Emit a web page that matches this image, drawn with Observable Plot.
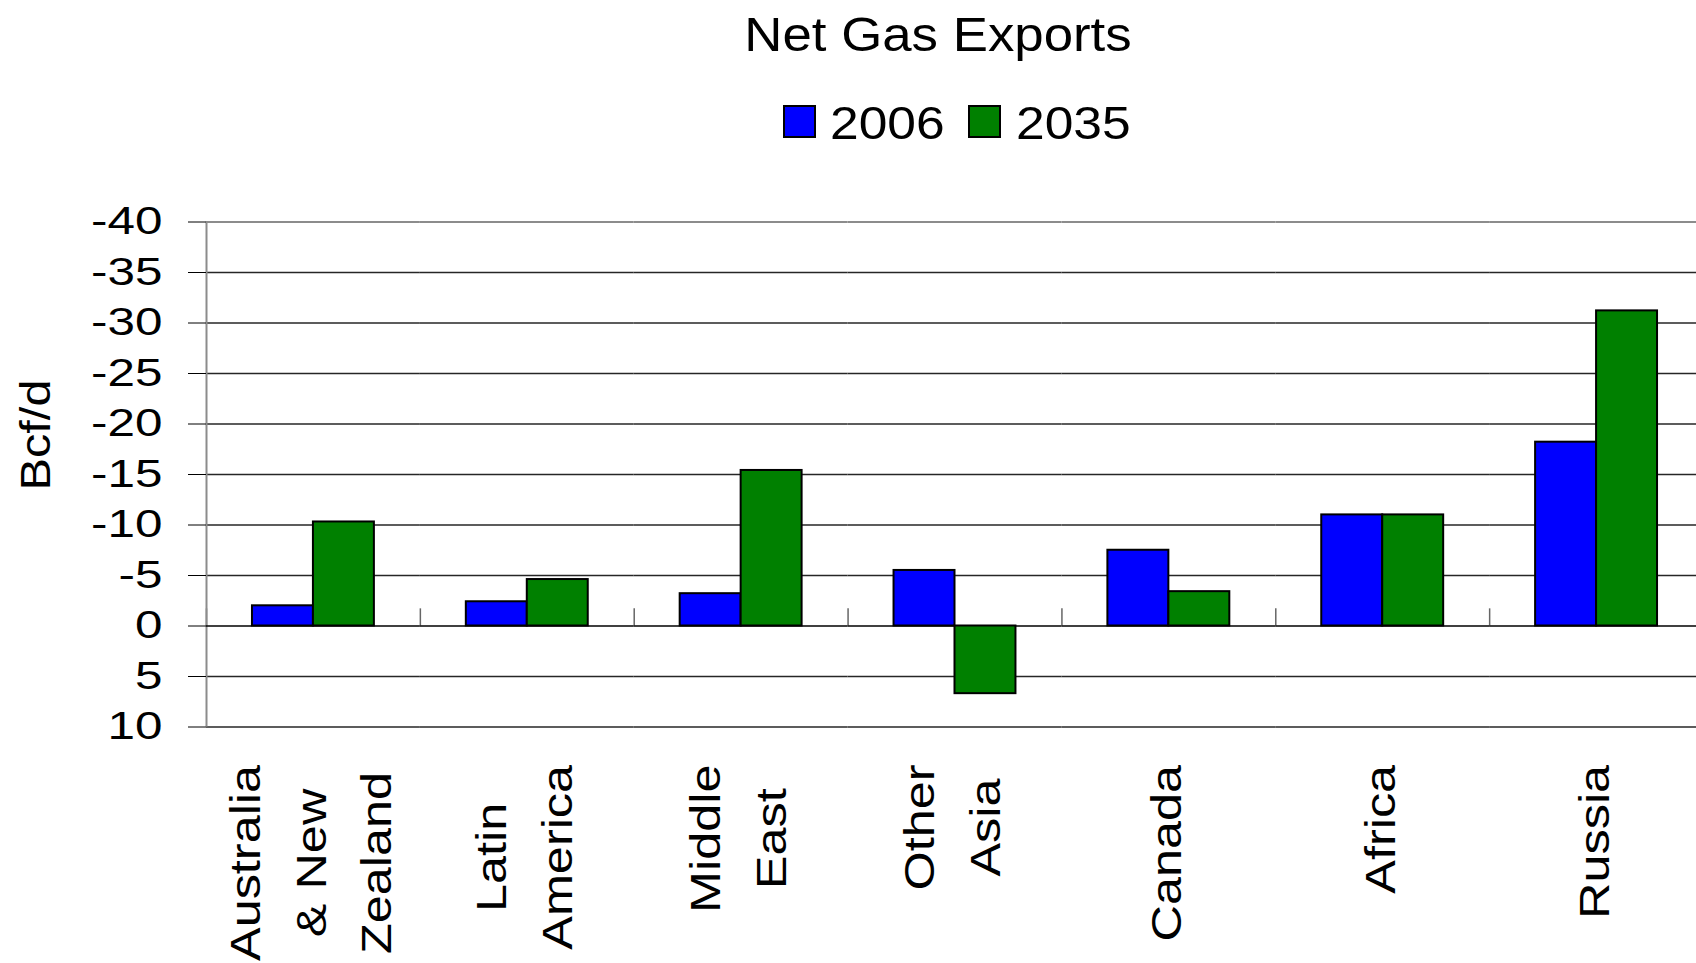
<!DOCTYPE html>
<html>
<head>
<meta charset="utf-8">
<script src="https://cdn.jsdelivr.net/npm/d3@7"></script>
<script src="https://cdn.jsdelivr.net/npm/@observablehq/plot@0.6"></script>
<style>
  html, body { margin: 0; padding: 0; background: #fff; overflow: hidden; }
  #chart { position: relative; width: 1696px; height: 963px; font-family: "Liberation Sans", Arial, sans-serif; color: #000; }
  #header { position: relative; width: 1696px; height: 160px; }
  #title { position: absolute; left: 937.5px; top: 11px; font-size: 48px; line-height: 48px; white-space: nowrap; transform: translateX(-50%) scaleX(1.1); }
  .swatch { position: absolute; top: 105px; width: 33px; height: 33px; box-sizing: border-box; border: 2px solid #000; }
  .ltext { position: absolute; top: 100.4px; font-size: 46px; line-height: 46px; white-space: nowrap; transform: scaleX(1.12); transform-origin: left center; }
  #plot svg { display: block; }
</style>
</head>
<body>
<div id="chart">
  <div id="header"><div id="title"></div></div>
  <div id="plot"></div>
</div>
<script>
// ---- data ----
const titleText = "Net Gas Exports";
const yLabel = "Bcf/d";
const categories = ["Australia & New Zealand", "Latin America", "Middle East", "Other Asia", "Canada", "Africa", "Russia"];
const categoryLines = ["Australia\n& New\nZealand", "Latin\nAmerica", "Middle\nEast", "Other\nAsia", "Canada", "Africa", "Russia"];
const years = ["2006", "2035"];
const values2006 = [-2.0, -2.4, -3.2, -5.5, -7.5, -11.0, -18.2];
const values2035 = [-10.3, -4.6, -15.4, 6.7, -3.4, -11.0, -31.2];
const seriesColors = ["#0000ff", "#008000"];
const yTicks = [-40, -35, -30, -25, -20, -15, -10, -5, 0, 5, 10];

// ---- table for Plot ----
const seriesValues = [values2006, values2035];
const rows = categories.flatMap((c, i) => years.map((yr, j) => ({cat: c, year: yr, value: seriesValues[j][i]})));

// ---- layout ----
const W = 1696, svgH = 803;
const mL = 206, mR = -7, mT = 61.5, mB = 236.5;
const padOuter = 0.754;
const bandW = (W - mL - mR) / categories.length;
const step = bandW / (years.length + 2 * padOuter);
const edgeDx = -(padOuter + 0.5) * step;   // from centre of first year band to facet edge
const tickSx = 1.3, catSx = 1.2, ylabSx = 1.16;

document.getElementById("title").textContent = titleText;
const header = document.getElementById("header");
years.forEach((yr, i) => {
  const left = 782.7 + i * 185.6;
  const sw = document.createElement("div");
  sw.className = "swatch";
  sw.style.left = left + "px";
  sw.style.background = seriesColors[i];
  header.appendChild(sw);
  const tx = document.createElement("div");
  tx.className = "ltext";
  tx.style.left = (left + 47.3) + "px";
  tx.textContent = yr;
  header.appendChild(tx);
});

const plot = Plot.plot({
  width: W, height: svgH,
  marginLeft: mL, marginRight: mR, marginTop: mT, marginBottom: mB,
  style: {fontFamily: "'Liberation Sans', Arial, sans-serif", background: "white", color: "black"},
  fx: {domain: categories, padding: 0, round: false, axis: null, label: null},
  x: {domain: years, paddingInner: 0, paddingOuter: padOuter, round: false, axis: null},
  y: {domain: [10, -40]},
  color: {domain: years, range: seriesColors},
  marks: [
    Plot.ruleY(yTicks.filter(t => t !== -40 && t !== 0), {y: d => d, stroke: "#262626", strokeWidth: 1.3}),
    Plot.ruleY([-40], {y: d => d, stroke: "#8c8c8c", strokeWidth: 2}),
    Plot.ruleX(categories, {fx: d => d, x: () => years[0], y1: 0, y2: -1.7, dx: edgeDx, stroke: "#666", strokeWidth: 1.5}),
    Plot.ruleX([categories[0]], {fx: d => d, x: () => years[0], y1: 10, y2: -40, dx: edgeDx, stroke: "#8c8c8c", strokeWidth: 2}),
    Plot.ruleY([0], {y: d => d, stroke: "#000", strokeWidth: 1.6}),
    Plot.barY(rows, {fx: "cat", x: "year", y1: 0, y2: "value", fill: "year", stroke: "#000", strokeWidth: 2}),
    Plot.axisY({ticks: yTicks, tickSize: 18, tickPadding: 26, tickFormat: d => String(d), fontSize: 38, label: null}),
    Plot.text(categoryLines, {fx: (d, i) => categories[i], text: d => d, frameAnchor: "bottom", rotate: -90,
      textAnchor: "middle", lineAnchor: "middle", lineHeight: 1.57, fontSize: 42, dx: -9, dy: 37.5, ariaDescription: "category-label"}),
    Plot.text([yLabel], {fx: () => categories[0], text: d => d, frameAnchor: "left", rotate: -90,
      textAnchor: "middle", lineAnchor: "middle", fontSize: 42, dx: 35.7 - mL, dy: -39.5, ariaDescription: "y-title"})
  ]
});
document.getElementById("plot").appendChild(plot);

// glyph widening as in the reference rendering
const addScale = (sel, sx) => plot.querySelectorAll(sel).forEach(t => {
  t.setAttribute("transform", (t.getAttribute("transform") || "") + ` scale(${sx},1)`);
});
addScale('g[aria-label="y-axis tick label"] text', tickSx);
addScale('g[aria-description="y-title"] text', ylabSx);
plot.querySelectorAll('g[aria-description="category-label"] text').forEach(t => {
  const w = t.getBBox().width;
  t.setAttribute("transform", `translate(0,${w * catSx / 2}) ` + (t.getAttribute("transform") || "") + ` scale(${catSx},1)`);
});
</script>
</body>
</html>
